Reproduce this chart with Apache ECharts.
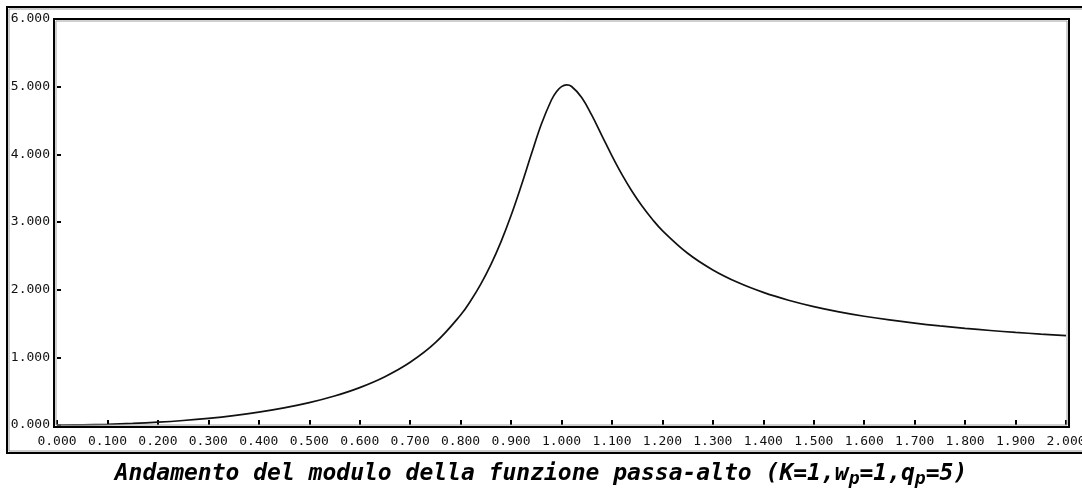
<!DOCTYPE html>
<html>
<head>
<meta charset="utf-8">
<script src="https://cdn.jsdelivr.net/npm/echarts@6/dist/echarts.min.js"></script>
<style>
  html, body { margin: 0; padding: 0; background: #fff; }
  #chart { width: 1082px; height: 493px; }
</style>
</head>
<body>
<div id="chart"></div>
<script>
// Frequency (normalised pulsation) samples
var omega = [0, 0.05, 0.1, 0.15, 0.2, 0.25, 0.3, 0.35, 0.4, 0.45, 0.5, 0.55, 0.6, 0.65, 0.7, 0.75,
  0.8, 0.82, 0.84, 0.86, 0.88, 0.9, 0.92, 0.94, 0.96, 0.98, 0.99, 1.0, 1.01, 1.02, 1.04, 1.06, 1.08,
  1.1, 1.12, 1.14, 1.16, 1.18, 1.2, 1.25, 1.3, 1.35, 1.4, 1.45, 1.5, 1.55, 1.6, 1.65, 1.7, 1.75,
  1.8, 1.85, 1.9, 1.95, 2.0];
// Magnitude of the high-pass response at each sample
var modulo = [0, 0.0025, 0.0101, 0.0230, 0.0416, 0.0666, 0.0987, 0.1392, 0.1896, 0.2523, 0.3304,
  0.4284, 0.5529, 0.7137, 0.9265, 1.2162, 1.6246, 1.8354, 2.0817, 2.3699, 2.7065, 3.0948, 3.5313,
  3.9960, 4.4438, 4.8030, 4.9252, 5.0000, 5.0251, 5.0029, 4.8408, 4.5786, 4.2779, 3.9785, 3.7007,
  3.4519, 3.2327, 3.0407, 2.8731, 2.5384, 2.2920, 2.1053, 1.9600, 1.8443, 1.7503, 1.6726, 1.6076,
  1.5523, 1.5050, 1.4639, 1.4281, 1.3966, 1.3687, 1.3439, 1.3216];
// Axis ranges and steps
var xRange = [0, 2, 0.1];
var yRange = [0, 6, 1];

var points = omega.map(function (w, i) { return [w, modulo[i]]; });
var tickFont = 'DejaVu Sans Mono';

var chart = echarts.init(document.getElementById('chart'));
chart.setOption({
  animation: false,
  backgroundColor: '#ffffff',
  grid: { left: 57, right: 16, top: 19, bottom: 68, containLabel: false, outerBoundsMode: 'none' },
  title: {
    left: 'center',
    top: 455,
    text: '{a|Andamento del modulo della funzione passa-alto (K=1,w}{s|p}{a|=1,q}{s|p}{a|=5)}',
    textStyle: {
      rich: {
        a: { fontFamily: tickFont, fontWeight: 'bold', fontStyle: 'italic', fontSize: 23, color: '#000', lineHeight: 28 },
        s: { fontFamily: tickFont, fontWeight: 'bold', fontStyle: 'italic', fontSize: 18, color: '#000', lineHeight: 28, padding: [10, 0, 0, 0] }
      }
    }
  },
  xAxis: {
    type: 'value',
    min: xRange[0], max: xRange[1], interval: xRange[2],
    offset: 2,
    axisLine: { show: false },
    axisTick: { show: true, inside: true, length: 5, lineStyle: { color: '#000', width: 2 } },
    splitLine: { show: false },
    axisLabel: {
      margin: 8,
      fontFamily: tickFont, fontSize: 13, color: '#111',
      formatter: function (v) { return v.toFixed(3); }
    }
  },
  yAxis: {
    type: 'value',
    min: yRange[0], max: yRange[1], interval: yRange[2],
    offset: 3,
    axisLine: { show: false },
    axisTick: { show: true, inside: true, length: 4, lineStyle: { color: '#000', width: 2 } },
    splitLine: { show: false },
    axisLabel: {
      margin: 4,
      fontFamily: tickFont, fontSize: 13, color: '#111',
      formatter: function (v) { return v.toFixed(3); }
    }
  },
  series: [{
    type: 'line',
    data: points,
    smooth: 0.4,
    showSymbol: false,
    lineStyle: { color: '#111', width: 1.7 }
  }],
  graphic: [
    // outer frame
    { type: 'rect', silent: true, z: 0,
      shape: { x: 7, y: 7, width: 1100, height: 446 },
      style: { fill: null, stroke: '#000', lineWidth: 2 } },
    { type: 'rect', silent: true, z: 0,
      shape: { x: 9, y: 9, width: 1100, height: 442 },
      style: { fill: null, stroke: '#9a9a9a', lineWidth: 1 } },
    // plot frame
    { type: 'rect', silent: true, z: 10,
      shape: { x: 54, y: 19, width: 1015, height: 408 },
      style: { fill: null, stroke: '#000', lineWidth: 2 } },
    { type: 'rect', silent: true, z: 10,
      shape: { x: 56, y: 21, width: 1011, height: 404 },
      style: { fill: null, stroke: '#a0a0a0', lineWidth: 1 } }
  ]
});
</script>
</body>
</html>
